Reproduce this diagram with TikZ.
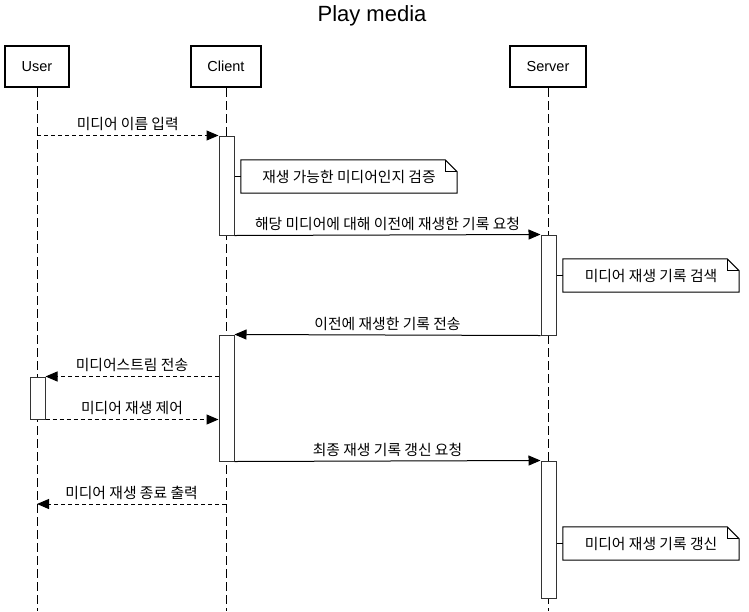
\documentclass[tikz,border=0pt]{standalone}
\usepackage{fontspec}
\setmainfont{Liberation Sans}
\newfontfamily\kr{Noto Sans CJK KR}
\usetikzlibrary{arrows.meta}

\begin{document}
\begin{tikzpicture}[x=1pt, y=-1pt,
    actor/.style={draw, line width=2pt, minimum width=64pt, minimum height=41pt, inner sep=0pt, font=\fontsize{14.5}{17}\selectfont},
    bar/.style={draw=black!80, fill=white, line width=1pt, minimum width=15pt, inner sep=0pt},
    life/.style={line width=1pt, dash pattern=on 9pt off 4pt},
    msg/.style={line width=1pt, -{Triangle[length=12pt,width=10pt]}},
    reply/.style={msg, dash pattern=on 4pt off 3pt},
    lbl/.style={font=\kr\fontsize{14.8}{17}\selectfont, inner sep=0pt, above=4pt},
    notetext/.style={font=\kr\fontsize{14.8}{17}\selectfont, inner sep=0pt}]
    \useasboundingbox (0,0) rectangle (749,611);

    % Title
    \node[font=\fontsize{22}{26}\selectfont] (title) at (372,15.5) {Play media};

    % Participants
    \node[actor, minimum width=64pt] (user) at (37,66.5) {User};
    \node[actor, minimum width=70pt] (client) at (226,66.5) {Client};
    \node[actor, minimum width=76pt] (server) at (548,66.5) {Server};

    % Lifelines
    \coordinate (bottom) at (0,611);
    \draw[life] (user.south) -- (user.south |- bottom);
    \draw[life] (client.south) -- (client.south |- bottom);
    \draw[life] (server.south) -- (server.south |- bottom);

    % Activation bars
    \node[bar, minimum height=99pt] (actC1) at (226.5,185.5) {};
    \node[bar, minimum height=100pt] (actS1) at (548.5,285) {};
    \node[bar, minimum height=126pt] (actC2) at (226.5,398) {};
    \node[bar, minimum height=42pt] (actU) at (37.5,398) {};
    \node[bar, minimum height=137pt] (actS2) at (548.5,529.5) {};

    % Notes
    \foreach \nm/\cx/\cy/\w/\txt in {noteCheck/349/176.5/216/{재생 가능한 미디어인지 검증},
                                   noteSearch/651/275.5/176/{미디어 재생 기록 검색},
                                   noteUpdate/651/543.5/176/{미디어 재생 기록 갱신}} {
        \node[minimum width=\w pt, minimum height=33pt, inner sep=0pt] (\nm) at (\cx,\cy) {};
        \draw[line width=1pt, fill=white] (\nm.south west) -- (\nm.north west) -- ([xshift=-12pt]\nm.north east)
            -- ([yshift=-12pt]\nm.north east) -- (\nm.south east) -- cycle;
        \draw[line width=1pt] ([xshift=-12pt]\nm.north east) -- ([xshift=-12pt, yshift=-12pt]\nm.north east)
            -- ([yshift=-12pt]\nm.north east);
        \node[notetext] at (\nm.center) {\txt};
    }
    \draw[line width=1pt] (actC1.east |- noteCheck.west) -- (noteCheck.west);
    \draw[line width=1pt] (actS1.east |- noteSearch.west) -- (noteSearch.west);
    \draw[line width=1pt] (actS2.east |- noteUpdate.west) -- (noteUpdate.west);

    % Messages
    \draw[reply] (user.south |- actC1.north) -- (actC1.north west)
        node[lbl, midway] {미디어 이름 입력};
    \draw[msg] (actC1.south east) -- (actS1.north west)
        node[lbl, midway] {해당 미디어에 대해 이전에 재생한 기록 요청};
    \draw[msg] (actS1.south west) -- (actC2.north east)
        node[lbl, midway] {이전에 재생한 기록 전송};
    \draw[reply] (actC2.west |- actU.north) -- (actU.north east)
        node[lbl, midway] {미디어스트림 전송};
    \draw[reply] (actU.south east) -- (actU.south east -| actC2.west)
        node[lbl, midway] {미디어 재생 제어};
    \draw[msg] (actC2.south east) -- (actS2.north west)
        node[lbl, midway] {최종 재생 기록 갱신 요청};
    \coordinate (endC) at (226,504);
    \draw[reply] (endC) -- (endC -| user.south)
        node[lbl, midway] {미디어 재생 종료 출력};
\end{tikzpicture}
\end{document}
